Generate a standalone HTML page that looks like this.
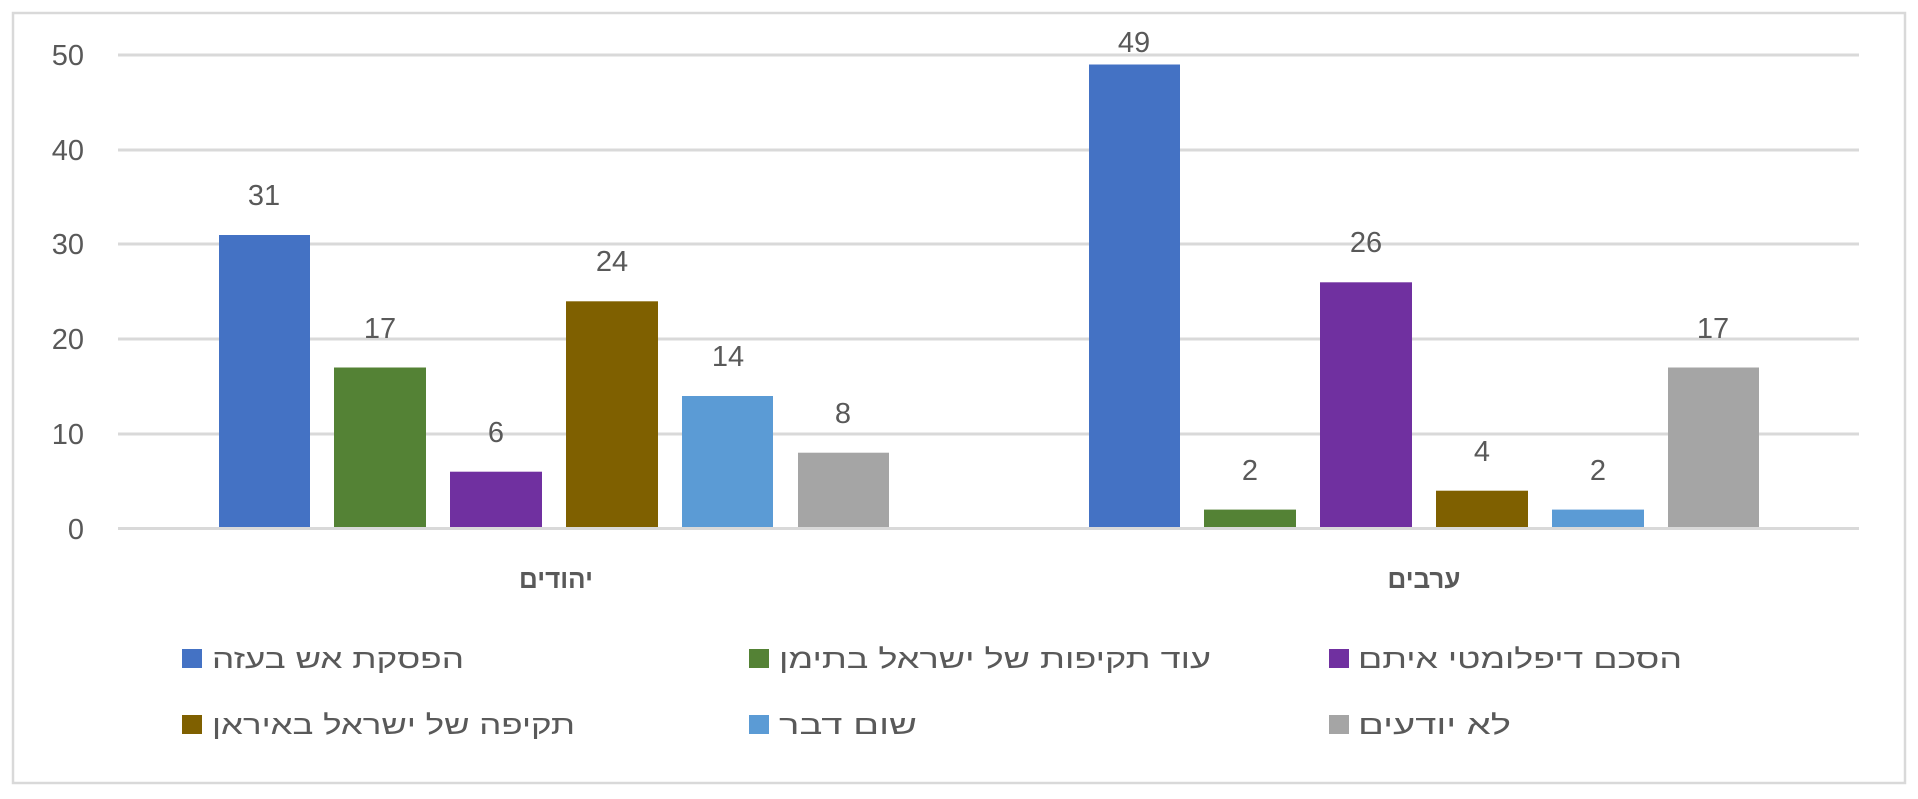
<!DOCTYPE html>
<html><head><meta charset="utf-8"><style>
html,body{margin:0;padding:0;background:#fff;}
svg{display:block;}
text{font-family:"Liberation Sans","DejaVu Sans",sans-serif;fill:#595959;}
</style></head><body>
<svg width="1918" height="799" viewBox="0 0 1918 799" xmlns="http://www.w3.org/2000/svg">
<rect x="0" y="0" width="1918" height="799" fill="#fff"/>
<rect x="13" y="13" width="1892" height="770" fill="none" stroke="#d9d9d9" stroke-width="2.5"/>
<g stroke="#d9d9d9" stroke-width="3">
<line x1="118" y1="55" x2="1859" y2="55"/>
<line x1="118" y1="150" x2="1859" y2="150"/>
<line x1="118" y1="244" x2="1859" y2="244"/>
<line x1="118" y1="339" x2="1859" y2="339"/>
<line x1="118" y1="434" x2="1859" y2="434"/>
<line x1="118" y1="528.5" x2="1859" y2="528.5"/>
</g>
<g font-size="29" text-anchor="end">
<text x="84" y="65">50</text>
<text x="84" y="160">40</text>
<text x="84" y="254">30</text>
<text x="84" y="349">20</text>
<text x="84" y="444">10</text>
<text x="84" y="539">0</text>
</g>
<g>
<rect x="219" y="235" width="91" height="292" fill="#4472c4"/>
<rect x="334" y="367.5" width="92" height="159.5" fill="#548235"/>
<rect x="450" y="471.7" width="92" height="55.3" fill="#7030a0"/>
<rect x="566" y="301.3" width="92" height="225.7" fill="#7f6000"/>
<rect x="682" y="396" width="91" height="131" fill="#5b9bd5"/>
<rect x="798" y="452.7" width="91" height="74.3" fill="#a5a5a5"/>
<rect x="1089" y="64.5" width="91" height="462.5" fill="#4472c4"/>
<rect x="1204" y="509.6" width="92" height="17.4" fill="#548235"/>
<rect x="1320" y="282.3" width="92" height="244.7" fill="#7030a0"/>
<rect x="1436" y="490.7" width="92" height="36.3" fill="#7f6000"/>
<rect x="1552" y="509.6" width="92" height="17.4" fill="#5b9bd5"/>
<rect x="1668" y="367.5" width="91" height="159.5" fill="#a5a5a5"/>
</g>
<g font-size="29" text-anchor="middle">
<text x="264" y="205">31</text>
<text x="380" y="338">17</text>
<text x="496" y="442">6</text>
<text x="612" y="271">24</text>
<text x="728" y="366">14</text>
<text x="843" y="423">8</text>
<text x="1134" y="52">49</text>
<text x="1250" y="480">2</text>
<text x="1366" y="252">26</text>
<text x="1482" y="461">4</text>
<text x="1598" y="480">2</text>
<text x="1713" y="338">17</text>
</g>
<g font-size="26" font-weight="bold" text-anchor="middle">
<text x="556" y="588">יהודים</text>
<text x="1424" y="588">ערבים</text>
</g>
<g>
<rect x="182" y="649" width="20" height="19" fill="#4472c4"/>
<rect x="749" y="649" width="20" height="19" fill="#548235"/>
<rect x="1329" y="649" width="20" height="19" fill="#7030a0"/>
<rect x="182" y="715" width="20" height="19" fill="#7f6000"/>
<rect x="749" y="715" width="20" height="19" fill="#5b9bd5"/>
<rect x="1329" y="715" width="20" height="19" fill="#a5a5a5"/>
</g>
<g font-size="27">
<text x="212" y="668" textLength="252" lengthAdjust="spacingAndGlyphs">הפסקת אש בעזה</text>
<text x="779" y="668" textLength="432" lengthAdjust="spacingAndGlyphs">עוד תקיפות של ישראל בתימן</text>
<text x="1358" y="668" textLength="324" lengthAdjust="spacingAndGlyphs">הסכם דיפלומטי איתם</text>
<text x="212" y="734" textLength="363" lengthAdjust="spacingAndGlyphs">תקיפה של ישראל באיראן</text>
<text x="779" y="734" textLength="138" lengthAdjust="spacingAndGlyphs">שום דבר</text>
<text x="1358" y="734" textLength="153" lengthAdjust="spacingAndGlyphs">לא יודעים</text>
</g>
</svg>
</body></html>
